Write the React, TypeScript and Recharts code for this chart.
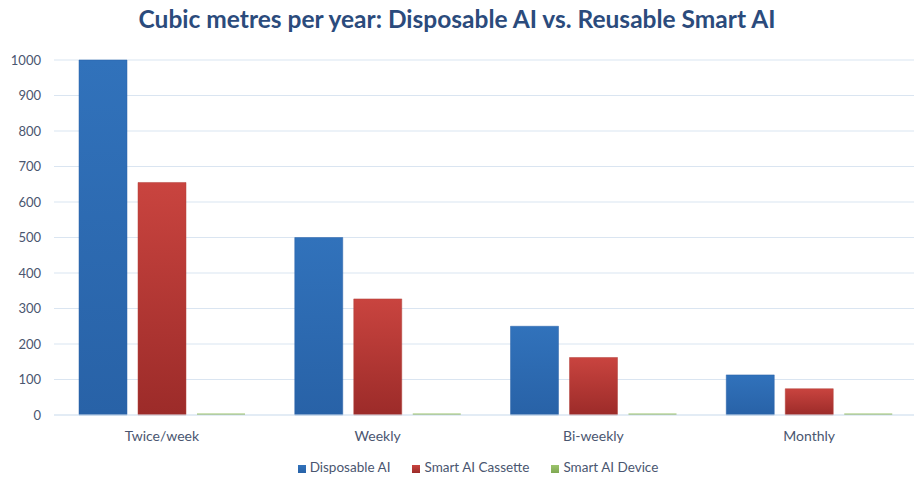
import React from "react";
import { BarChart, Bar, XAxis, YAxis, CartesianGrid, Legend } from "recharts";

// Frequency of use
const categories = ["Twice/week", "Weekly", "Bi-weekly", "Monthly"];
// Cubic metres per year
const disposableAI = [1000, 500, 250, 113];
const smartAICassette = [655, 327, 162, 74];
const smartAIDevice = [4, 4, 4, 4];
const yTicks = [0, 100, 200, 300, 400, 500, 600, 700, 800, 900, 1000];

const data = categories.map((name, i) => ({
  name,
  disposable: disposableAI[i],
  cassette: smartAICassette[i],
  device: smartAIDevice[i],
}));

const FONT = "Lato, 'Open Sans', sans-serif";
const LABEL = "#4a5670";

export default function App() {
  return (
    <div
      style={{
        position: "fixed",
        left: 0,
        top: 0,
        width: 914,
        height: 479,
        overflow: "hidden",
        background: "#ffffff",
        fontFamily: FONT,
      }}
    >
      <div
        style={{
          position: "absolute",
          left: 0,
          top: 4,
          width: 914,
          textAlign: "center",
          fontSize: 24.5,
          fontWeight: 700,
          color: "#2b4b7c",
          lineHeight: "30px",
        }}
      >
        Cubic metres per year: Disposable AI vs. Reusable Smart AI
      </div>
      <BarChart
        width={917}
        height={479}
        data={data}
        margin={{ top: 60, right: 0, bottom: 0, left: 0 }}
        barCategoryGap={25}
        barGap={11}
      >
        <defs>
          <linearGradient id="gBlue" x1="0" y1="0" x2="0" y2="1">
            <stop offset="0%" stopColor="#3172bb" />
            <stop offset="100%" stopColor="#2862a7" />
          </linearGradient>
          <linearGradient id="gRed" x1="0" y1="0" x2="0" y2="1">
            <stop offset="0%" stopColor="#c9443f" />
            <stop offset="100%" stopColor="#9c2b29" />
          </linearGradient>
          <linearGradient id="gGreen" x1="0" y1="0" x2="0" y2="1">
            <stop offset="0%" stopColor="#9cc46c" />
            <stop offset="100%" stopColor="#7fa852" />
          </linearGradient>
        </defs>
        <CartesianGrid vertical={false} stroke="#dae5f1" strokeWidth={1.2} />
        <XAxis
          dataKey="name"
          height={30}
          tickLine={false}
          axisLine={{ stroke: "#dae5f1", strokeWidth: 1.2 }}
          tick={{ fill: LABEL, fontSize: 14, fontFamily: FONT }}
          tickMargin={10}
        />
        <YAxis
          width={54}
          domain={[0, 1000]}
          ticks={yTicks}
          interval={0}
          tickLine={false}
          axisLine={false}
          tickMargin={7}
          tick={{ fill: LABEL, fontSize: 13, fontFamily: FONT }}
        />
        <Legend
          verticalAlign="bottom"
          height={20}
          iconType="square"
          iconSize={8}
          wrapperStyle={{ fontFamily: FONT, fontSize: 13.5, paddingTop: 14, left: 32, width: 914 }}
          formatter={(value) => <span style={{ color: LABEL, marginRight: 12 }}>{value}</span>}
        />
        <Bar dataKey="disposable" name="Disposable AI" fill="url(#gBlue)" stroke="#2a63a8" strokeWidth={0.5} isAnimationActive={false} legendType="square" />
        <Bar dataKey="cassette" name="Smart AI Cassette" fill="url(#gRed)" stroke="#b3403b" strokeWidth={0.5} isAnimationActive={false} legendType="square" />
        <Bar dataKey="device" name="Smart AI Device" fill="url(#gGreen)" isAnimationActive={false} legendType="square" />
      </BarChart>
    </div>
  );
}
